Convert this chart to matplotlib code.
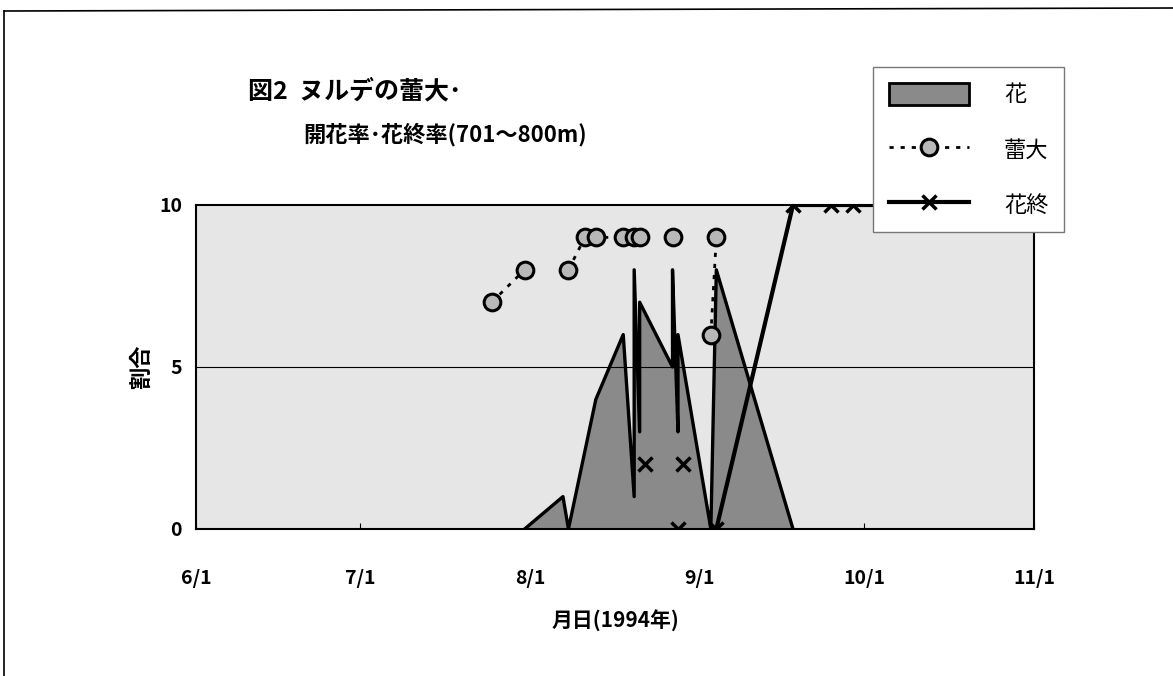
import pandas as pd
import matplotlib
matplotlib.use('Agg')
import matplotlib.pyplot as plt
import matplotlib.dates as mdates
from matplotlib.lines import Line2D
from matplotlib.patches import Patch

plt.rcParams['font.family'] = ['Noto Sans CJK JP', 'DejaVu Sans']

# 花 (開花率) -- repeated dates give the vertical jumps of the original
hana_date = ['1994-07-31', '1994-08-07', '1994-08-08', '1994-08-13', '1994-08-18',
             '1994-08-20', '1994-08-20', '1994-08-21', '1994-08-21',
             '1994-08-27', '1994-08-27', '1994-08-28', '1994-08-28',
             '1994-09-03', '1994-09-04', '1994-09-18']
hana_val = [0, 1, 0, 4, 6, 1, 8, 3, 7, 5, 8, 3, 6, 0, 8, 0]

# 蕾大 (segments: points with same id are joined by the dotted line)
tsubomi_date = ['1994-07-25', '1994-07-31', '1994-08-08', '1994-08-11', '1994-08-13',
                '1994-08-18', '1994-08-20', '1994-08-21', '1994-08-27',
                '1994-09-03', '1994-09-04']
tsubomi_val = [7, 8, 8, 9, 9, 9, 9, 9, 9, 6, 9]
tsubomi_seg = [0, 0, 1, 1, 1, 1, 1, 1, 2, 3, 3]

# 花終
owari_date = ['1994-08-22', '1994-08-28', '1994-08-29', '1994-09-04',
              '1994-09-18', '1994-09-25', '1994-09-29', '1994-10-06']
owari_val = [2, 0, 2, 0, 10, 10, 10, 10]
owari_seg = [0, 1, 2, 3, 3, 3, 3, 3]

tick_date = ['1994-06-01', '1994-07-01', '1994-08-01', '1994-09-01', '1994-10-01', '1994-11-01']
tick_label = ['6/1', '7/1', '8/1', '9/1', '10/1', '11/1']

def to_num(d):
    return mdates.date2num(pd.to_datetime(d))

fig = plt.figure(figsize=(11.73, 6.76), dpi=100)
ax = fig.add_axes([196 / 1173, 1 - 529 / 676, 838 / 1173, 324 / 676])
ax.set_facecolor('#e6e6e6')

hx = to_num(hana_date)
ax.fill_between(hx, hana_val, 0, facecolor='#8a8a8a', edgecolor='none', zorder=2)
ax.plot(hx, hana_val, color='black', lw=2.4, zorder=3)

ax.axhline(5, color='black', lw=0.8, zorder=2.5)

tx = to_num(tsubomi_date)
for s in sorted(set(tsubomi_seg)):
    idx = [i for i, g in enumerate(tsubomi_seg) if g == s]
    ax.plot([tx[i] for i in idx], [tsubomi_val[i] for i in idx],
            color='black', lw=2, ls=(0, (1.5, 2.5)), zorder=4)
ax.plot(tx, tsubomi_val, ls='none', marker='o', ms=12, mfc='#b8b8b8',
        mec='black', mew=2.2, zorder=5)

ox = to_num(owari_date)
for s in sorted(set(owari_seg)):
    idx = [i for i, g in enumerate(owari_seg) if g == s]
    ax.plot([ox[i] for i in idx], [owari_val[i] for i in idx],
            color='black', lw=3, zorder=6)
ax.plot(ox, owari_val, ls='none', marker='x', ms=10, mec='black', mew=2.5, zorder=7)

ax.set_xlim(to_num(tick_date[0]), to_num(tick_date[-1]))
ax.set_ylim(0, 10)
ax.set_xticks(to_num(tick_date))
ax.set_xticklabels(tick_label)
ax.set_yticks([0, 5, 10])
ax.tick_params(axis='x', direction='in', length=4, pad=29, labelsize=14)
ax.tick_params(axis='y', length=0, pad=10, labelsize=14)
for lab in ax.get_xticklabels() + ax.get_yticklabels():
    lab.set_fontweight('bold')
for sp in ax.spines.values():
    sp.set_color('black')
    sp.set_linewidth(1.5)

ax.set_ylabel('割合', fontsize=16, fontweight='bold')
ax.yaxis.set_label_coords((153 - 196) / 838, 0.5)
ax.set_xlabel('月日(1994年)', fontsize=15, fontweight='bold')
ax.xaxis.set_label_coords(0.5, -(610 - 529) / 324)

fig.text(248 / 1173, 1 - 91 / 676, '図2  ヌルデの蕾大･', fontsize=18,
         fontweight='bold', va='center', ha='left')
fig.text(303 / 1173, 1 - 135 / 676, '開花率･花終率(701～800m)', fontsize=16,
         fontweight='bold', va='center', ha='left')

handles = [Patch(facecolor='#8a8a8a', edgecolor='black', lw=2),
           Line2D([], [], color='black', lw=2, ls=(0, (1.5, 2.5)), marker='o', ms=12,
                  mfc='#b8b8b8', mec='black', mew=2.2),
           Line2D([], [], color='black', lw=3, marker='x', ms=10, mew=2.5)]
leg = fig.legend(handles, ['花', '蕾大', '花終'], loc='upper left',
                 bbox_to_anchor=(873 / 1173, 1 - 67 / 676), fontsize=16,
                 frameon=True, fancybox=False, framealpha=1, handlelength=3.6,
                 handleheight=1.2, labelspacing=1.4, borderpad=0.7,
                 handletextpad=1.6, borderaxespad=0)
leg.get_frame().set_edgecolor('#777777')
leg.get_frame().set_linewidth(1)

# outer frame of the scanned figure
fig.add_artist(Line2D([4 / 1173, 4 / 1173], [0, 1 - 11 / 676], color='black', lw=1.2))
fig.add_artist(Line2D([4 / 1173, 1], [1 - 11 / 676, 1 - 8 / 676], color='black', lw=1.2))

fig.savefig('out.png', dpi=100)
